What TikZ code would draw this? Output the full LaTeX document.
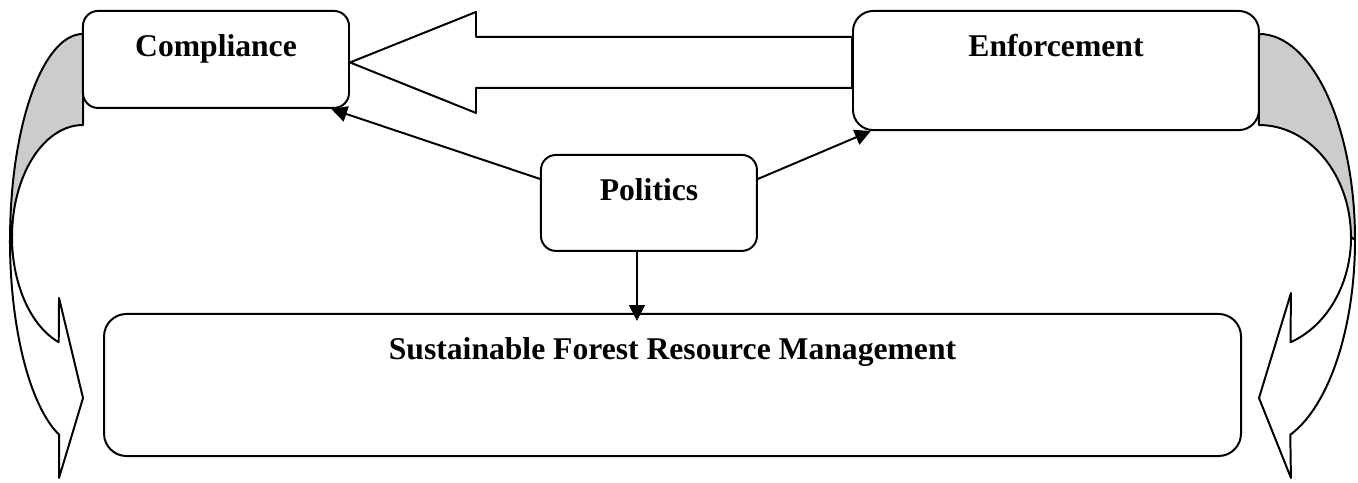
\documentclass[tikz,border=0pt]{standalone}
\usepackage{fontspec}
\setmainfont{Liberation Serif}
\usepackage{tikz}
\usetikzlibrary{positioning}
\usetikzlibrary{calc,arrows.meta}

\begin{document}
\begin{tikzpicture}[
        box/.style={draw, line width=0.75pt, rounded corners=0.2cm, fill=white, anchor=north,
            inner sep=0pt, text height=17.3pt, font=\fontsize{12}{14}\selectfont\bfseries},
        link/.style={-{Triangle[length=6pt,width=6pt]}, line width=0.75pt},
        band/.style={line width=0.75pt, line join=round}]

                \useasboundingbox (0,0) rectangle (18.107,6.44);

                % Curved arrows (left and right)
                \filldraw[band, fill=black!20] (1.107,5.987) arc[start angle=90, end angle=180, x radius=0.973, y radius=2.747]
                    -- (0.16,3.28) arc[start angle=180, end angle=90, x radius=0.947, y radius=1.493] -- cycle;
                \filldraw[band, fill=white] (0.133,3.24) arc[start angle=180, end angle=251, x radius=0.973, y radius=2.747]
                    -- (0.787,0.067) -- (1.107,1.133) -- (0.787,2.467)
                    -- (0.783,1.877) arc[start angle=250, end angle=180, x radius=0.947, y radius=1.493] -- cycle;
                \filldraw[band, fill=black!20] (16.787,5.987) arc[start angle=90, end angle=0, x radius=1.28, y radius=2.747]
                    -- (18.013,3.28) arc[start angle=0, end angle=90, x radius=1.227, y radius=1.493] -- cycle;
                \filldraw[band, fill=white] (18.067,3.24) arc[start angle=0, end angle=-71, x radius=1.28, y radius=2.747]
                    -- (17.213,0.067) -- (16.787,1.133) -- (17.213,2.533)
                    -- (17.207,1.877) arc[start angle=-70, end angle=0, x radius=1.227, y radius=1.493] -- cycle;

                % Nodes
                \node at (2.88,6.307) (compliance) [box, minimum width=3.547cm, text depth=19.5pt] {Compliance};
                \node at (14.08,6.307) (enforcement) [box, minimum width=5.413cm, text depth=27.9pt, rounded corners=0.27cm] {Enforcement};
                \node at (8.653,4.387) (politics) [box, minimum width=2.88cm, text depth=19.1pt] {Politics};
                \node at (8.967,2.267) (sfrm) [box, minimum width=15.16cm, text depth=36.6pt, rounded corners=0.3cm] {Sustainable Forest Resource Management};

                % Block arrow from Enforcement to Compliance
                \coordinate (tip) at ([yshift=-0.04cm]compliance.east);
                \draw[band] (tip) -- ++(1.68,0.673) -- ++(0,-0.333)
                    -- ($(enforcement.west |- tip)+(0,0.34)$) -- ++(0,-0.68)
                    -- ($(tip)+(1.68,-0.34)$) -- ++(0,-0.333) -- cycle;

                % Arrows
                \draw[link] ([yshift=0.32cm]politics.west) -- ([xshift=-0.25cm]compliance.south east);
                \draw[link] ([yshift=0.32cm]politics.east) -- ([xshift=0.25cm]enforcement.south west);
                \draw[link, shorten >=-3pt] ([xshift=-0.16cm]politics.south) coordinate (down) -- (down |- sfrm.north);

\end{tikzpicture}
\end{document}
